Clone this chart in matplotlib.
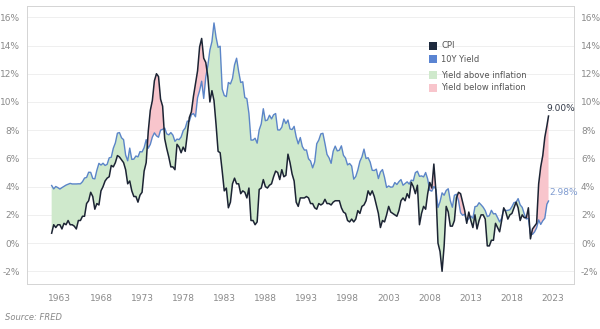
import numpy as np
import matplotlib.pyplot as plt
from matplotlib.patches import Rectangle

# quarterly readings (Jan, Apr, Jul, Oct), 1962 to mid 2022
cpi = [0.7, 1.3, 1.1, 1.3,  1.3, 1.0, 1.4, 1.3,  1.6, 1.3, 1.3, 1.2,  1.0, 1.6, 1.6, 1.9,
       1.9, 2.8, 3.0, 3.6,  3.3, 2.4, 2.8, 2.7,  3.7, 4.0, 4.4, 4.6,  4.7, 5.5, 5.4, 5.7,
       6.2, 6.1, 5.9, 5.7,  5.2, 4.2, 4.4, 3.7,  3.3, 3.3, 2.9, 3.4,  3.6, 5.1, 5.7, 7.9,
       9.4, 10.1, 11.5, 12.0,  11.8, 10.2, 9.7, 7.4,  6.7, 6.1, 5.4, 5.4,  5.2, 7.0, 6.8, 6.4,
       6.8, 6.5, 7.7, 8.9,  9.3, 10.4, 11.3, 12.2,  13.9, 14.5, 13.1, 12.8,  11.8, 10.0, 10.8, 10.1,
       8.4, 6.5, 6.4, 5.1,  3.7, 3.9, 2.5, 2.9,  4.2, 4.6, 4.2, 4.2,  3.5, 3.7, 3.6, 3.2,
       3.9, 1.6, 1.6, 1.3,  1.5, 3.8, 3.9, 4.5,  4.0, 3.9, 4.1, 4.2,  4.7, 5.1, 5.0, 4.5,
       5.2, 4.7, 4.8, 6.3,  5.7, 4.9, 4.4, 2.9,  2.6, 3.2, 3.2, 3.2,  3.3, 3.2, 2.8, 2.8,
       2.5, 2.4, 2.8, 2.7,  2.8, 3.1, 2.8, 2.8,  2.7, 2.9, 3.0, 3.0,  3.0, 2.5, 2.2, 2.1,
       1.6, 1.5, 1.7, 1.5,  1.7, 2.3, 2.1, 2.6,  2.7, 3.0, 3.7, 3.4,  3.7, 3.3, 2.7, 2.1,
       1.1, 1.6, 1.5, 2.0,  2.6, 2.2, 2.1, 2.0,  1.9, 2.3, 3.0, 3.2,  3.0, 3.5, 3.2, 4.3,
       4.0, 3.5, 4.1, 1.3,  2.1, 2.6, 2.4, 3.5,  4.3, 3.9, 5.6, 3.7,  0.0, -0.6, -2.0, -0.2,
       2.6, 2.2, 1.2, 1.2,  1.6, 3.2, 3.6, 3.5,  2.9, 2.3, 1.4, 2.2,  1.6, 1.1, 2.0, 1.0,
       1.6, 2.0, 2.0, 1.7,  -0.2, -0.2, 0.2, 0.2,  1.4, 1.1, 0.8, 1.6,  2.5, 2.2, 1.7, 2.0,
       2.1, 2.5, 2.9, 2.5,  1.6, 2.0, 1.8, 1.8,  2.5, 0.3, 1.0, 1.2,  1.4, 4.2, 5.4, 6.2,
       7.5, 8.3, 9.0]

yld = [4.08, 3.84, 4.01, 3.93,  3.83, 3.93, 4.02, 4.11,  4.17, 4.23, 4.19, 4.19,  4.19, 4.20, 4.20, 4.35,
       4.61, 4.65, 5.02, 5.01,  4.58, 4.55, 5.16, 5.65,  5.53, 5.66, 5.50, 5.58,  6.04, 6.08, 6.72, 7.10,
       7.79, 7.83, 7.46, 7.33,  6.24, 5.83, 6.73, 5.93,  5.95, 6.17, 6.11, 6.48,  6.46, 6.76, 7.33, 6.72,
       6.99, 7.51, 7.81, 7.60,  7.50, 8.00, 8.06, 8.15,  7.74, 7.67, 7.83, 7.65,  7.21, 7.37, 7.33, 7.52,
       7.96, 8.15, 8.64, 8.64,  9.10, 9.18, 8.95, 10.30,  10.80, 11.47, 10.25, 11.75,  12.57, 13.68, 14.28, 15.6,
       14.59, 13.87, 13.95, 10.91,  10.46, 10.38, 11.38, 11.28,  11.67, 12.63, 13.1, 12.16,  11.38, 11.43, 10.31, 10.24,
       9.19, 7.30, 7.30, 7.43,  7.08, 8.02, 8.45, 9.52,  8.67, 8.72, 9.06, 8.80,  9.09, 9.18, 8.02, 8.01,
       8.21, 8.79, 8.47, 8.72,  8.09, 8.04, 8.27, 7.53,  7.03, 7.48, 6.84, 6.59,  6.60, 5.97, 5.81, 5.33,
       5.75, 7.04, 7.30, 7.74,  7.78, 7.06, 6.28, 6.04,  5.65, 6.51, 6.87, 6.53,  6.58, 6.89, 6.22, 6.03,
       5.54, 5.64, 5.46, 4.53,  4.72, 5.18, 5.79, 6.11,  6.66, 5.99, 6.05, 5.74,  5.16, 5.14, 5.24, 4.57,
       5.04, 5.21, 4.65, 3.94,  4.05, 3.96, 3.98, 4.29,  4.15, 4.35, 4.50, 4.10,  4.22, 4.34, 4.18, 4.46,
       4.42, 4.99, 5.09, 4.73,  4.76, 4.69, 5.00, 4.53,  3.74, 3.68, 4.01, 3.81,  2.52, 2.93, 3.56, 3.39,
       3.73, 3.85, 3.01, 2.54,  3.39, 3.46, 3.00, 2.15,  1.97, 2.05, 1.53, 1.75,  1.91, 1.76, 2.58, 2.62,
       2.86, 2.71, 2.54, 2.30,  1.88, 1.94, 2.32, 2.07,  2.09, 1.81, 1.50, 1.76,  2.43, 2.30, 2.32, 2.36,
       2.58, 2.87, 2.89, 3.15,  2.71, 2.53, 2.06, 1.71,  1.76, 0.66, 0.62, 0.79,  1.08, 1.64, 1.32, 1.58,
       1.76, 2.75, 2.98]

years = 1962 + np.arange(len(cpi)) * 0.25
years[-1] = 2022.45
cpi = np.array(cpi)
yld = np.array(yld)

year_ticks = list(range(1963, 2024, 5))
pct_ticks = list(range(-2, 17, 2))

c_cpi = '#1c2434'
c_yld = '#5b85c8'
c_green = '#cfe9cc'
c_pink = '#f8c5cc'

fig = plt.figure(figsize=(6, 3.29), dpi=100)
ax = fig.add_axes([27/600, 1 - 284/329, 547/600, 278/329])

ax.fill_between(years, cpi, yld, where=yld >= cpi, interpolate=True, color=c_green, lw=0)
ax.fill_between(years, cpi, yld, where=yld < cpi, interpolate=True, color=c_pink, lw=0)
ax.plot(years, yld, color=c_yld, lw=1.0)
ax.plot(years, cpi, color=c_cpi, lw=1.1)

ax.set_xlim(1959.0, 2025.55)
ax.set_ylim(-2.9, 16.8)
ax.set_xticks(year_ticks)
ax.set_xticklabels([str(y) for y in year_ticks])
ax.set_yticks(pct_ticks)
ax.set_yticklabels([f'{p}%' for p in pct_ticks])
ax.tick_params(length=0, labelsize=6.5, labelcolor='#8a8a8a', labelright=True)
ax.tick_params(axis='y', pad=5)
ax.tick_params(axis='x', pad=7)
ax.grid(axis='y', color='#ededed', lw=0.6)
ax.set_axisbelow(True)
for s in ax.spines.values():
    s.set_color('#d4d4d4')
    s.set_linewidth(0.7)

# end labels
ax.text(years[-1] - 0.3, cpi[-1] + 0.25, f'{cpi[-1]:.2f}%', fontsize=6.5, color='#333a48',
        ha='left', va='bottom')
ax.text(years[-1] + 0.1, yld[-1] + 0.3, f'{yld[-1]:.2f}%', fontsize=6.5, color='#7f9bd0',
        ha='left', va='bottom')

# legend
items = [('CPI', '#1e2a3e', 46), ('10Y Yield', '#5a84d2', 59),
         ('Yield above inflation', c_green, 75), ('Yield below inflation', c_pink, 88)]
for label, col, ypx in items:
    fig.add_artist(Rectangle((429/600, 1 - (ypx + 4)/329), 8/600, 8/329,
                             transform=fig.transFigure, color=col, lw=0))
    fig.text(441/600, 1 - ypx/329, label, fontsize=6, color='#555555', va='center')

fig.text(5/600, 1 - 317/329, 'Source: FRED', fontsize=6, color='#888888',
         style='italic', va='center')

fig.savefig('out.png', dpi=100)
